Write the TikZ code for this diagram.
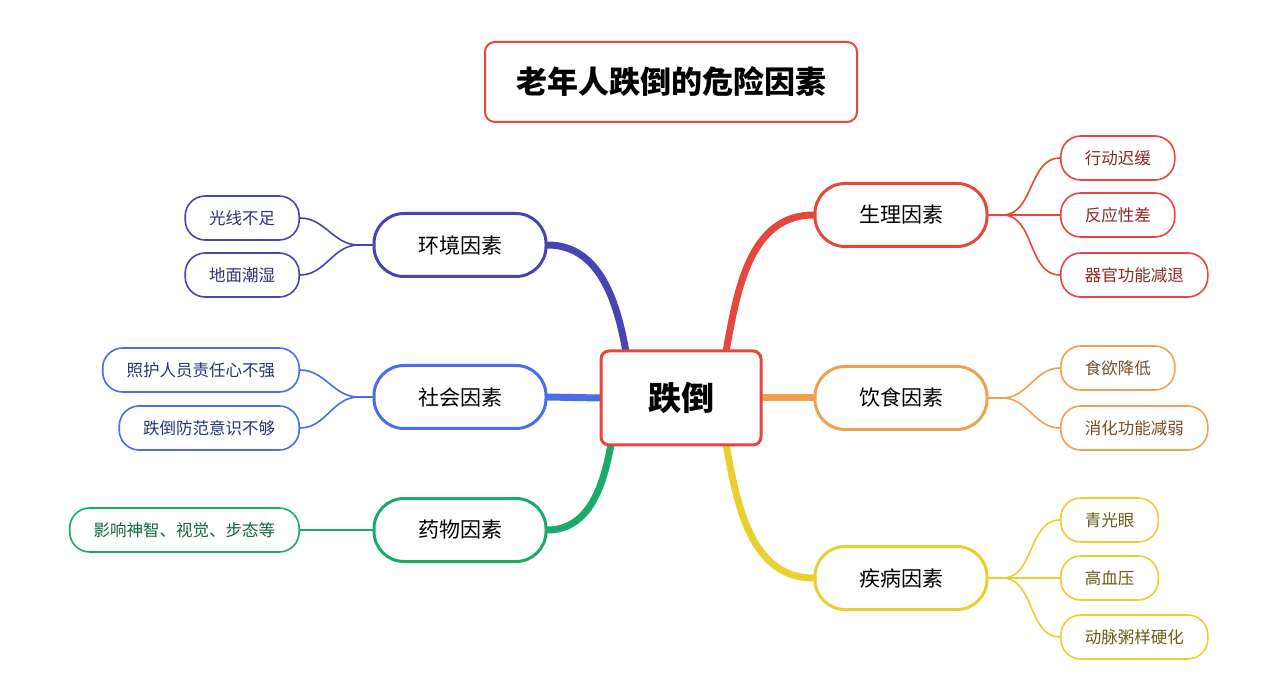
\documentclass[tikz,border=0pt]{standalone}
\usepackage{fontspec}
\usepackage{xcolor}
\usepackage{tikz}
\usetikzlibrary{positioning, calc, backgrounds}
\newfontfamily\cjk{Noto Sans CJK SC}
\definecolor{fallred}{RGB}{232, 69, 60}
\definecolor{fallorange}{RGB}{240, 160, 80}
\definecolor{fallyellow}{RGB}{232, 208, 48}
\definecolor{fallindigo}{RGB}{72, 68, 180}
\definecolor{fallblue}{RGB}{74, 110, 232}
\definecolor{fallgreen}{RGB}{26, 170, 106}

\begin{document}
\begin{tikzpicture}[x=1pt, y=-1pt,
    rootbox/.style={draw=fallred, line width=3pt, rounded corners=8pt, fill=white,
      minimum width=160pt, minimum height=94pt, font=\cjk\fontsize{33}{36}\selectfont\bfseries},
    branch/.style={draw=#1, line width=3pt, rounded corners=30pt, fill=white,
      minimum width=172pt, minimum height=63pt, font=\cjk\fontsize{21}{24}\selectfont},
    leaf/.style={draw=#1, line width=1.6pt, rounded corners=20pt, fill=white,
      minimum height=44pt, inner xsep=24pt, font=\cjk\fontsize{16.5}{19}\selectfont},
    trunk/.style={line width=7pt, line cap=round},
    twig/.style={line width=1.6pt}]
  \useasboundingbox (0,0) rectangle (1267,692);

  % Title
  \node[draw=fallred, line width=2pt, rounded corners=10pt, minimum width=372pt, minimum height=80pt,
    font=\cjk\fontsize{31}{34}\selectfont\bfseries] (title) at (671,82) {老年人跌倒的危险因素};

  \coordinate (rtop) at (726,352);
  \coordinate (rbot) at (726,444);
  \coordinate (ltop) at (626,352);
  \coordinate (lbot) at (611,444);

  % Root and branches
  \node[rootbox] (root) at (681,398) {跌倒};
  \node[branch=fallred] (physio) at (901,215) {生理因素};
  \node[branch=fallorange] (diet) at (901,398) {饮食因素};
  \node[branch=fallyellow] (illness) at (901,578) {疾病因素};
  \node[branch=fallindigo] (envir) at (460,245) {环境因素};
  \node[branch=fallblue] (social) at (460,397) {社会因素};
  \node[branch=fallgreen] (drug) at (460,530) {药物因素};

  % Trunks
  \begin{scope}[on background layer]
    \draw[trunk, fallred] (rtop) to[out=80, in=180] (physio.west);
    \draw[trunk, fallorange] (root.east) -- (diet.west);
    \draw[trunk, fallyellow] (rbot) to[out=-80, in=180] (illness.west);
    \draw[trunk, fallindigo] (ltop) to[out=100, in=0] (envir.east);
    \draw[trunk, fallblue] (root.west) -- (social.east);
    \draw[trunk, fallgreen] (lbot) to[out=-100, in=0] (drug.east);
  \end{scope}

  % Leaves, right
  \node[leaf=fallred, text=fallred!60!black, anchor=west] (slow) at (1060,158) {行动迟缓};
  \node[leaf=fallred, text=fallred!60!black, anchor=west] (react) at (1060,215) {反应性差};
  \node[leaf=fallred, text=fallred!60!black, anchor=west] (organ) at (1060,275) {器官功能减退};
  \node[leaf=fallorange, text=fallorange!50!black, anchor=west] (appetite) at (1060,368) {食欲降低};
  \node[leaf=fallorange, text=fallorange!50!black, anchor=west] (digest) at (1060,428) {消化功能减弱};
  \node[leaf=fallyellow, text=fallyellow!45!black, anchor=west] (glauc) at (1060,520) {青光眼};
  \node[leaf=fallyellow, text=fallyellow!45!black, anchor=west] (pressure) at (1060,578) {高血压};
  \node[leaf=fallyellow, text=fallyellow!45!black, anchor=west] (athero) at (1060,637) {动脉粥样硬化};

  % Leaves, left
  \node[leaf=fallindigo, text=fallindigo!70!black, anchor=east] (light) at (300,218) {光线不足};
  \node[leaf=fallindigo, text=fallindigo!70!black, anchor=east] (floor) at (300,275) {地面潮湿};
  \node[leaf=fallblue, text=fallblue!50!black, anchor=east] (carer) at (300,370) {照护人员责任心不强};
  \node[leaf=fallblue, text=fallblue!50!black, anchor=east] (aware) at (300,428) {跌倒防范意识不够};
  \node[leaf=fallgreen, text=fallgreen!60!black, anchor=east] (mind) at (300,530) {影响神智、视觉、步态等};

  % Twigs
  \foreach \b/\l/\c in {physio/slow/fallred, physio/react/fallred, physio/organ/fallred,
      diet/appetite/fallorange, diet/digest/fallorange,
      illness/glauc/fallyellow, illness/pressure/fallyellow, illness/athero/fallyellow}
    \draw[twig, \c] (\b.east) -- ++(14,0) to[out=0, in=180] (\l.west);
  \foreach \b/\l/\c in {envir/light/fallindigo, envir/floor/fallindigo,
      social/carer/fallblue, social/aware/fallblue, drug/mind/fallgreen}
    \draw[twig, \c] (\b.west) -- ++(-14,0) to[out=180, in=0] (\l.east);
\end{tikzpicture}
\end{document}
